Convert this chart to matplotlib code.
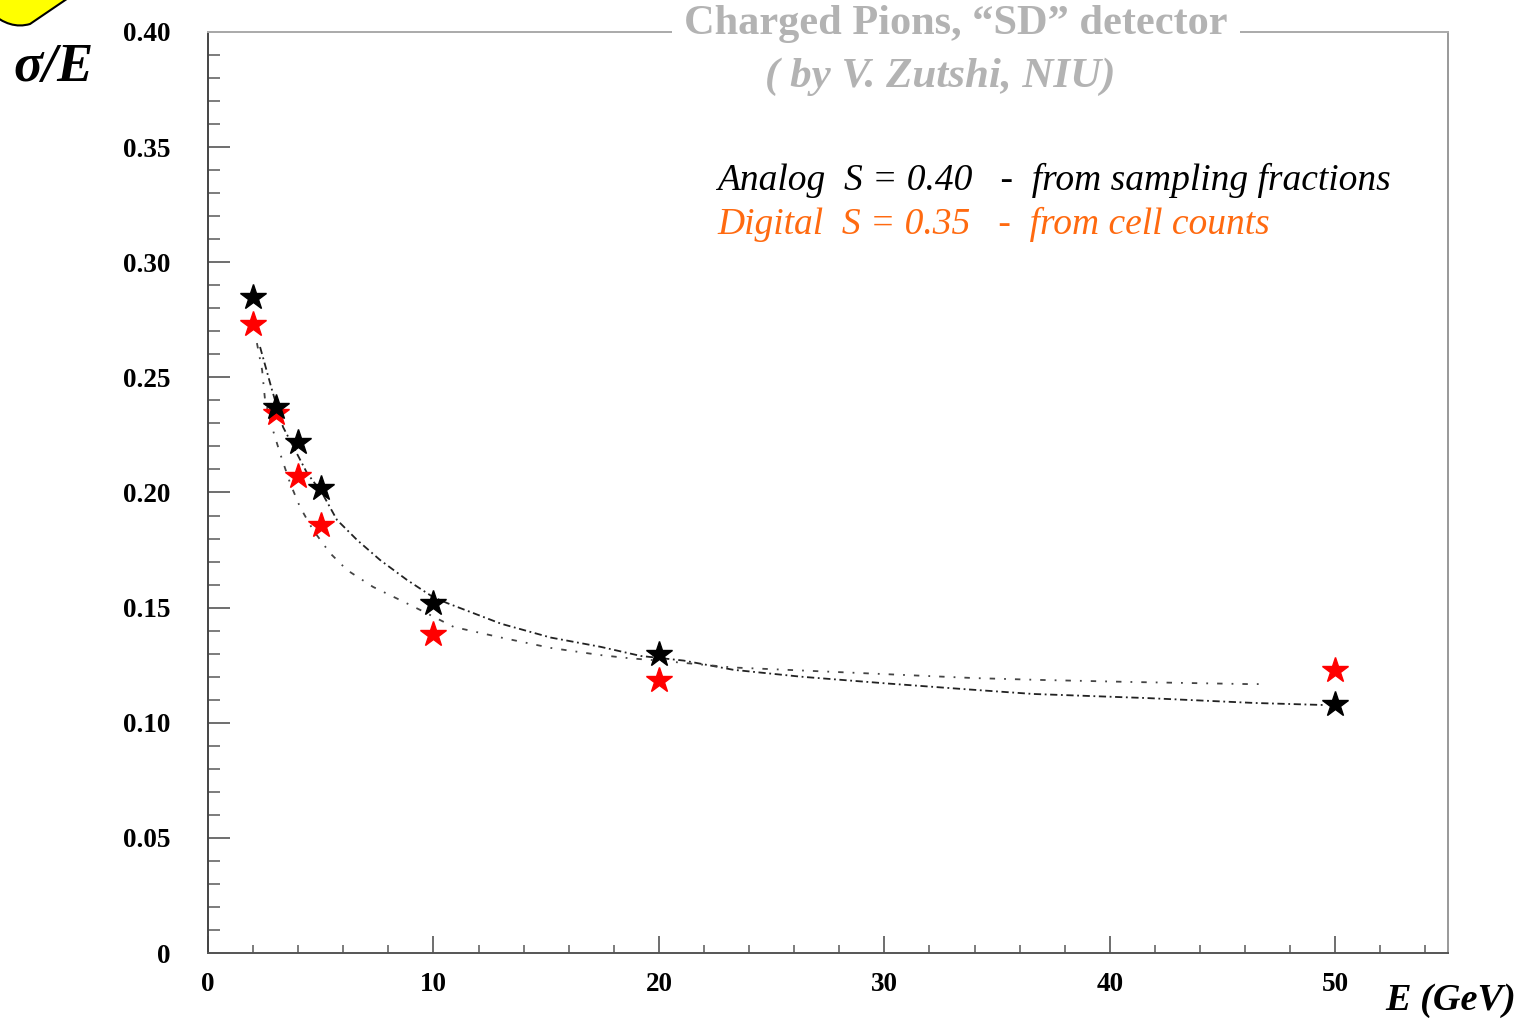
import numpy as np
import matplotlib
matplotlib.use("Agg")
import matplotlib.pyplot as plt
from matplotlib.patches import PathPatch
from matplotlib.path import Path

# measured points (E in GeV, sigma/E)
E_points = [2, 3, 4, 5, 10, 20, 50]
analog_res = [0.285, 0.237, 0.222, 0.202, 0.152, 0.130, 0.108]
digital_res = [0.273, 0.2345, 0.207, 0.186, 0.1385, 0.1186, 0.123]

# fit curves
fit_analog_E = [2.31, 2.84, 3.33, 3.86, 4.39, 5.06, 5.72, 6.61, 7.63, 8.83, 9.98,
                10.6, 13.0, 15.2, 17.4, 19.2, 21.1, 23.3, 26.3, 30.2, 33.4, 36.6,
                41.7, 46.4, 49.5]
fit_analog = [0.2632, 0.2445, 0.2284, 0.2185, 0.2085, 0.1998, 0.1881, 0.1794,
              0.1707, 0.1620, 0.1546, 0.152, 0.143, 0.137, 0.133, 0.129, 0.127,
              0.123, 0.120, 0.117, 0.1147, 0.1125, 0.1107, 0.1086, 0.1077]
fit_digital_E = [2.17, 2.40, 2.53, 2.88, 3.19, 3.64, 4.08, 4.66, 5.41, 6.17, 7.32,
                 8.52, 9.41, 10.9, 13.0, 15.2, 17.4, 18.7, 20.0, 23.3, 28.9, 31.0,
                 34.0, 36.9, 41.0, 46.1, 47.0]
fit_digital = [0.2649, 0.2532, 0.2402, 0.2271, 0.2172, 0.2041, 0.1937, 0.1837,
               0.1737, 0.1663, 0.1590, 0.1533, 0.1490, 0.1416, 0.137, 0.1325,
               0.1294, 0.128, 0.127, 0.124, 0.1216, 0.1207, 0.1194, 0.1186,
               0.1177, 0.1168, 0.1168]

y_ticks = [0, 0.05, 0.10, 0.15, 0.20, 0.25, 0.30, 0.35, 0.40]
y_tick_labels = ["0", "0.05", "0.10", "0.15", "0.20", "0.25", "0.30", "0.35", "0.40"]
x_ticks = [0, 10, 20, 30, 40, 50]
x_tick_labels = ["0", "10", "20", "30", "40", "50"]

plt.rcParams['font.family'] = ['Liberation Serif', 'DejaVu Serif']

W, H = 1523, 1021
fig = plt.figure(figsize=(W / 100, H / 100), dpi=100)
ax = fig.add_axes([208 / W, 1 - 953 / H, (1448 - 208) / W, (953 - 32) / H])

ax.plot(fit_analog_E, fit_analog, color='#222222', lw=1.3,
        linestyle=(0, (4, 2, 1, 2)), zorder=2)
ax.plot(fit_digital_E, fit_digital, color='#444444', lw=1.3,
        linestyle=(0, (3, 5, 1, 5)), zorder=2)

ax.plot(E_points, analog_res, linestyle='none', marker='*', ms=19,
        color='black', zorder=4)
ax.plot(E_points, digital_res, linestyle='none', marker='*', ms=19,
        color='#ff0000', zorder=3)

ax.set_xlim(0, 55)
ax.set_ylim(0, 0.40)

ax.set_yticks(y_ticks)
ax.set_yticklabels(y_tick_labels, fontsize=19.5, fontweight='bold')
ax.set_yticks(np.arange(0, 0.401, 0.01), minor=True)
ax.set_xticks(x_ticks)
ax.set_xticklabels(x_tick_labels, fontsize=19.5, fontweight='bold')
ax.set_xticks(np.arange(0, 55, 2), minor=True)

ax.tick_params(axis='y', which='major', direction='in', length=16, width=1.2,
               color='#555555', pad=27)
ax.tick_params(axis='y', which='minor', direction='in', length=8.5, width=1.2,
               color='#666666')
ax.tick_params(axis='x', which='major', direction='in', length=12, width=1.2,
               color='#555555', pad=14)
ax.tick_params(axis='x', which='minor', direction='in', length=6, width=1.2,
               color='#666666')

ax.spines['left'].set_color('#444444')
ax.spines['bottom'].set_color('#555555')
ax.spines['top'].set_color('#aaaaaa')
ax.spines['right'].set_color('#999999')
for s in ax.spines.values():
    s.set_linewidth(1.4)

# title over the top frame line
fig.text(956 / W, 1 - 24 / H, "Charged Pions, \u201cSD\u201d detector",
         ha='center', va='center', fontsize=30.5, fontweight='bold',
         color='#b3b3b3', zorder=5,
         bbox=dict(facecolor='white', edgecolor='none', pad=9))
fig.text(940 / W, 1 - 77 / H, "( by V. Zutshi, NIU)",
         ha='center', va='center', fontsize=31, fontweight='bold',
         style='italic', color='#b3b3b3', zorder=6)

fig.text(717 / W, 1 - 180 / H, "Analog  S = 0.40   -  from sampling fractions",
         ha='left', va='center', fontsize=27, style='italic', color='black')
fig.text(717 / W, 1 - 224 / H, "Digital  S = 0.35   -  from cell counts",
         ha='left', va='center', fontsize=27, style='italic', color='#ff6a10')

fig.text(13 / W, 1 - 68 / H, "\u03c3/E", ha='left', va='center', fontsize=39,
         fontweight='bold', style='italic', color='black')
fig.text(1516 / W, 1 - 1000 / H, "E (GeV)", ha='right', va='center', fontsize=27.5,
         fontweight='bold', style='italic', color='black')

# yellow bubble corner in the top left
verts = [(-10, H - 12), (10, H - 30), (30, H - 24), (80, H + 10), (-10, H + 10), (-10, H - 12)]
codes = [Path.MOVETO, Path.CURVE3, Path.LINETO, Path.LINETO, Path.LINETO, Path.CLOSEPOLY]
blob = PathPatch(Path(verts, codes), facecolor='#ffff00', edgecolor='black', lw=1.5,
                 transform=None, clip_on=False)
fig.patches.append(blob)

fig.savefig("out.png", dpi=100)
